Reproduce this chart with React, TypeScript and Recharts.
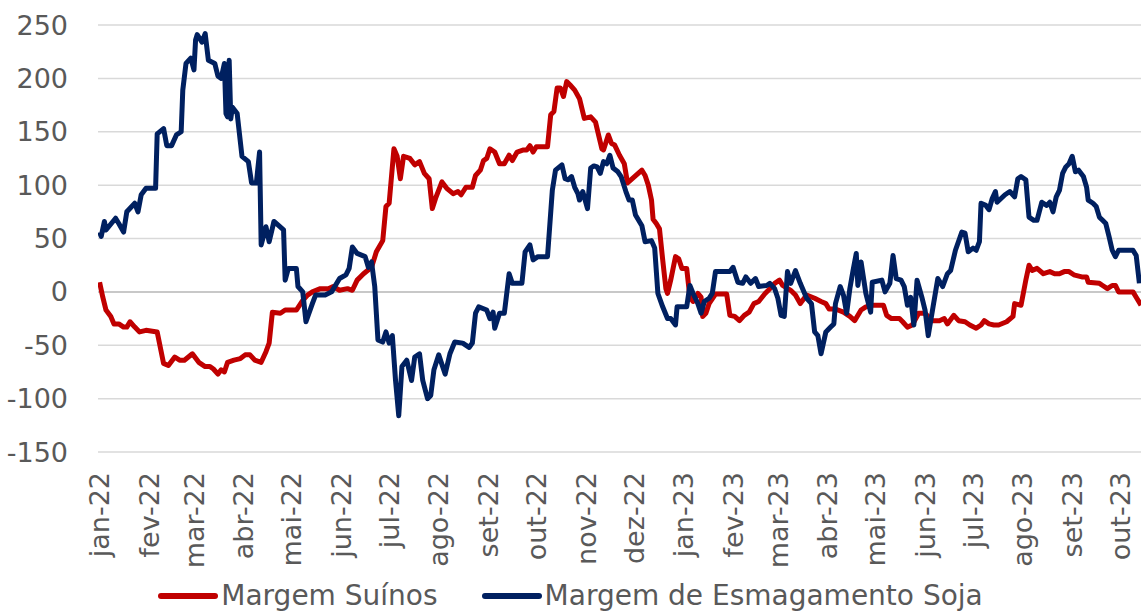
import React from "react";
import {
  LineChart,
  Line,
  XAxis,
  YAxis,
  CartesianGrid,
  ReferenceLine,
  Legend,
} from "recharts";

// x = days since 2022-01-01, y = margin value
const seriesNames = ["Margem Suínos", "Margem de Esmagamento Soja"];
const seriesColors = ["#C00000", "#002060"];

const monthStarts = [0, 31, 59, 90, 120, 151, 181, 212, 243, 273, 304, 334, 365, 396, 424, 455, 485, 516, 546, 577, 608, 638];
const monthLabels = [
  "jan-22", "fev-22", "mar-22", "abr-22", "mai-22", "jun-22", "jul-22", "ago-22", "set-22", "out-22", "nov-22", "dez-22",
  "jan-23", "fev-23", "mar-23", "abr-23", "mai-23", "jun-23", "jul-23", "ago-23", "set-23", "out-23",
];
const yTicks = [-150, -100, -50, 0, 50, 100, 150, 200, 250];

const suinosPoints: [number, number][] = [
  [0, 9], [2, -5], [4, -17], [7, -23], [9, -30], [12, -30], [15, -33], [17, -33], [19, -28], [22, -33],
  [25, -37.5], [29, -36], [36, -37.5], [40, -67], [43, -69], [47, -61], [50, -64], [53, -64], [58, -58], [62, -66],
  [66, -70], [69, -70], [71, -72], [74, -77], [76, -73], [78, -75], [80, -66], [84, -64], [88, -62.5], [91, -59],
  [94, -59], [97, -64], [101, -66], [104, -56], [106, -48], [108, -19], [113, -20], [116, -17], [123, -17], [127, -8],
  [130, -3], [133, 0], [138, 3], [143, 3], [146, 5], [150, 1.5], [155, 3], [158, 1.5], [161, 11], [165, 17],
  [170, 23], [173, 37.5], [177, 48], [179, 80], [181, 83], [184, 134], [186, 127], [188, 106], [190, 127], [194, 125],
  [197, 119], [200, 122], [203, 111], [206, 106], [208, 78], [210, 87.5], [214, 103], [217, 97], [221, 92], [224, 94],
  [226, 91], [229, 98], [233, 98], [235, 109], [238, 114], [240, 123], [242, 125], [244, 134], [247, 131], [250, 120],
  [253, 120], [256, 128], [258, 123], [261, 131], [265, 133], [267, 133], [269, 137], [271, 131], [273, 136], [280, 136],
  [282, 166], [284, 169], [286, 191], [288, 191], [290, 183], [292, 197], [294, 194], [297, 189], [300, 181], [303, 162.5],
  [307, 164], [310, 159], [314, 134], [315, 133], [318, 147], [320, 139], [322, 137.5], [325, 128], [328, 120], [330, 102],
  [333, 106], [339, 114], [341, 109], [343, 100], [345, 86], [346, 68], [348, 64], [350, 59], [352, 30], [354, 3],
  [355, -1.5], [357, 11], [360, 33], [362, 31], [364, 22], [367, 22], [369, -5], [371, -9], [374, -1.5], [376, -5],
  [377, -23], [379, -20], [381, -11], [385, -2], [392, -2], [394, -22], [397, -23], [400, -27], [403, -22], [406, -19],
  [409, -11], [412, -9], [416, -1.5], [419, 3], [422, 8], [425, 11], [427, 6], [432, 1.5], [435, -3], [438, -11],
  [442, -3], [447, -6], [451, -9], [454, -11], [456, -16], [460, -16], [465, -19], [469, -23], [472, -27], [476, -17],
  [479, -14], [483, -12.5], [490, -12.5], [492, -22], [495, -25], [500, -25], [502, -28], [505, -33], [508, -31], [512, -20],
  [516, -20], [518, -23], [520, -27], [525, -27], [528, -25], [530, -30], [534, -22], [537, -27], [541, -28], [544, -31],
  [548, -34], [551, -31], [553, -27], [556, -30], [559, -31], [562, -31], [567, -28], [571, -23], [572, -11], [576, -12.5],
  [579, 11], [581, 25], [583, 20], [586, 22], [590, 17], [594, 19], [597, 17], [600, 17], [603, 19], [606, 19],
  [609, 16], [614, 14], [617, 14], [618, 9], [625, 8], [627, 6], [630, 3], [633, 6], [635, 6], [637, 0],
  [646, 0], [648, -5], [651, -12.5],
];

const sojaPoints: [number, number][] = [
  [0, 56], [1, 52], [3, 66], [4, 58], [10, 69], [12, 64], [15, 56], [17, 75], [22, 83], [24, 75],
  [26, 91], [29, 97], [35, 97], [36, 148], [40, 153], [42, 137], [45, 137], [48, 147], [51, 150], [52, 189],
  [54, 214], [57, 219], [59, 208], [60, 236], [61, 241], [64, 234], [66, 242], [68, 217], [72, 214], [74, 202],
  [76, 200], [78, 214], [79, 167], [80, 164], [81, 217], [82, 162], [83, 173], [86, 167], [89, 127], [93, 122],
  [95, 102], [98, 102], [100, 131], [101, 44], [104, 61], [106, 47], [109, 66], [115, 58], [116, 11], [118, 22],
  [123, 22], [124, 5], [127, 0], [129, -28], [133, -11], [135, -3], [141, -3], [145, 0], [150, 12.5], [154, 16],
  [156, 22], [158, 42], [161, 36], [166, 33], [168, 23], [170, 28], [172, 5], [174, -45], [177, -47], [179, -37.5],
  [181, -48], [183, -41], [185, -83], [187, -116], [189, -70], [192, -64], [195, -83], [197, -61], [200, -58], [202, -83],
  [205, -100], [207, -97], [209, -73], [212, -59], [216, -77], [219, -58], [222, -47], [227, -48], [231, -52], [233, -48],
  [235, -20], [237, -14], [242, -17], [244, -25], [246, -19], [247, -34], [250, -20], [253, -20], [256, 17], [258, 8],
  [264, 8], [266, 37.5], [269, 44], [271, 30], [274, 33], [280, 33], [283, 95], [285, 114], [289, 119], [291, 106],
  [293, 105], [295, 108], [297, 98], [299, 92], [300, 86], [302, 94], [305, 78], [307, 116], [309, 118], [311, 117],
  [313, 111], [315, 122], [317, 120], [319, 128], [321, 116], [324, 112.5], [326, 108], [329, 94], [331, 86], [333, 86],
  [335, 72], [339, 62], [341, 47], [345, 48], [347, 41], [349, -1.5], [352, -14], [355, -25], [357, -25], [360, -31],
  [361, -14], [367, -14], [369, 6], [371, -1.5], [374, -11], [376, -20], [378, -9], [381, -6], [383, -1.5], [385, 19],
  [394, 19], [396, 23], [399, 9], [402, 8], [404, 14], [407, 8], [410, 12.5], [412, 5], [417, 6], [419, 8],
  [422, 3], [424, -6], [426, -22], [428, -23], [430, 19], [432, 8], [435, 20], [438, 8], [442, -6], [445, -11],
  [447, -37.5], [449, -41], [451, -58], [454, -37.5], [457, -33], [459, -30], [460, -11], [463, 5], [465, -3], [467, -20],
  [469, 3], [471, 20], [473, 36], [474, 6], [476, 28], [479, -1.5], [482, -19], [483, 9], [489, 11], [491, 0],
  [494, 8], [496, 34], [498, 12.5], [501, 11], [503, 5], [505, -12.5], [507, -5], [509, -31], [511, 11], [514, -5],
  [516, -17], [518, -41], [521, -14], [524, 12.5], [527, 5], [530, 17], [532, 20], [535, 39], [539, 56], [541, 55],
  [543, 37.5], [546, 41], [548, 39], [550, 47], [551, 83], [554, 81], [556, 77], [558, 87.5], [560, 94], [561, 84],
  [566, 91], [569, 94], [572, 89], [574, 106], [576, 108], [579, 105], [581, 70], [584, 67], [586, 67], [589, 84],
  [592, 81], [594, 84], [596, 75], [598, 89], [600, 95], [602, 111], [604, 117], [606, 120], [608, 127], [610, 112.5],
  [612, 114], [615, 108], [617, 98], [618, 86], [621, 83], [623, 80], [625, 70], [627, 67], [629, 64], [631, 52],
  [633, 39], [635, 33], [637, 39], [646, 39], [648, 34], [650, 8],
];

const toRows = (pts: [number, number][]) => pts.map(([d, v]) => ({ d, v }));
const suinosData = toRows(suinosPoints);
const sojaData = toRows(sojaPoints);

const FONT = "'DejaVu Sans', sans-serif";
const TEXT_COLOR = "#595959";
const FONT_SIZE = 27;

const labelFor = (d: number) => {
  const i = monthStarts.indexOf(d);
  return i >= 0 ? monthLabels[i] : "";
};

const XTick = (props: any) => {
  const { x, y, payload } = props;
  return (
    <text
      x={x}
      y={y}
      transform={`rotate(-90 ${x} ${y})`}
      textAnchor="end"
      dy="0.36em"
      fill={TEXT_COLOR}
      fontSize={FONT_SIZE}
      fontFamily={FONT}
    >
      {labelFor(payload.value)}
    </text>
  );
};

const LegendContent = (props: any) => {
  const { payload } = props;
  return (
    <div
      style={{
        display: "flex",
        justifyContent: "center",
        alignItems: "center",
        height: 36,
        fontFamily: FONT,
        fontSize: 28,
        color: TEXT_COLOR,
        whiteSpace: "nowrap",
      }}
    >
      {(payload || []).map((entry: any, i: number) => (
        <div
          key={i}
          style={{ display: "flex", alignItems: "center", marginLeft: i === 0 ? 0 : 44 }}
        >
          <svg width={60} height={12}>
            <line x1={3} x2={57} y1={6} y2={6} stroke={entry.color} strokeWidth={6} strokeLinecap="round" />
          </svg>
          <span style={{ marginLeft: 3, lineHeight: "36px" }}>{entry.value}</span>
        </div>
      ))}
    </div>
  );
};

export default function App() {
  return (
    <div style={{ position: "absolute", left: 0, top: 0, width: 1143, height: 614, background: "#fff" }}>
      <LineChart width={1143} height={614} margin={{ top: 25, right: 2, bottom: 0, left: 0 }}>
        <CartesianGrid horizontal vertical={false} stroke="#D9D9D9" strokeWidth={1.5} />
        <XAxis
          type="number"
          dataKey="d"
          domain={[-1, 651]}
          ticks={monthStarts}
          interval={0}
          allowDataOverflow
          axisLine={false}
          tickLine={false}
          tickSize={0}
          tickMargin={20}
          height={126}
          tick={<XTick />}
        />
        <YAxis
          type="number"
          domain={[-150, 250]}
          ticks={yTicks}
          interval={0}
          axisLine={false}
          tickLine={false}
          tickSize={0}
          tickMargin={30}
          width={98}
          tick={{ fill: TEXT_COLOR, fontSize: FONT_SIZE, fontFamily: FONT }}
        />
        <ReferenceLine y={0} stroke="#BFBFBF" strokeWidth={1.5} />
        <Legend verticalAlign="bottom" content={<LegendContent />} />
        <Line
          data={suinosData}
          dataKey="v"
          name={seriesNames[0]}
          stroke={seriesColors[0]}
          strokeWidth={5}
          dot={false}
          activeDot={false}
          type="linear"
          strokeLinejoin="round"
          isAnimationActive={false}
        />
        <Line
          data={sojaData}
          dataKey="v"
          name={seriesNames[1]}
          stroke={seriesColors[1]}
          strokeWidth={5}
          dot={false}
          activeDot={false}
          type="linear"
          strokeLinejoin="round"
          isAnimationActive={false}
        />
      </LineChart>
    </div>
  );
}
